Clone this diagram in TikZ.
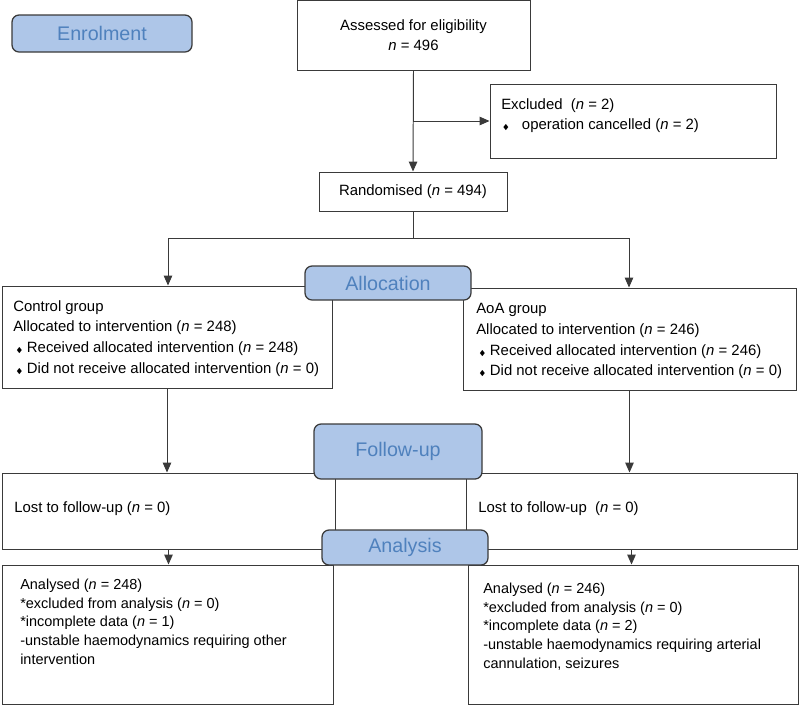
\documentclass[tikz,border=0pt]{standalone}
\usepackage{fontspec}
\usepackage{amssymb}
\setmainfont{Liberation Sans}
\usetikzlibrary{positioning}
\usetikzlibrary{fit}
\usetikzlibrary{arrows.meta}

\definecolor{stagefill}{HTML}{AEC6E8}
\definecolor{stagetext}{HTML}{4F81BD}
\definecolor{boxline}{HTML}{3A3A3A}
\newcommand{\dmd}{{\tiny$\blacklozenge$}}

\begin{document}
\begin{tikzpicture}[x=0.025cm,y=-0.025cm]

\tikzstyle{bordered} = [rectangle,draw=boxline,line width=0.7pt,inner sep=0]
\tikzstyle{stage} = [rounded corners=5pt,rectangle,draw=boxline,line width=0.9pt,fill=stagefill,inner sep=0]
\tikzstyle{stagetxt} = [inner sep=0,text=stagetext,font=\fontsize{14}{16}\selectfont]
\tikzstyle{txt} = [anchor=north west,inner sep=0,align=left,font=\fontsize{10.6}{14.8}\selectfont]
\tikzstyle{small} = [anchor=north west,inner sep=0,align=left,font=\fontsize{10.3}{13.2}\selectfont]
\tikzstyle{arrow} = [draw=boxline,line width=0.7pt,-{Triangle[length=7pt,width=6pt]}]

\useasboundingbox (0,0) rectangle (800,705);

\node [bordered, fit={(297,0) (530,70)}] (assess) {};
\node [inner sep=0, align=center, font=\fontsize{10.6}{14.2}\selectfont] at (assess.center) (assesstxt) {Assessed for eligibility\\\textit{n} = 496};

\node [bordered, fit={(490,84) (776,158)}] (excl) {};
\node [txt] at (501,98) (excltxt) {Excluded\ \ (\textit{n} = 2)\\\hspace{1pt}\dmd\hspace{9pt}operation cancelled (\textit{n} = 2)};

\node [bordered, fit={(319,172) (507,211)}] (rand) {};
\node [inner sep=0, font=\fontsize{10.6}{14.8}\selectfont] at (rand.center) (randtxt) {Randomised (\textit{n} = 494)};

\node [bordered, fit={(2,286) (332,388)}] (ctrl) {};
\node [txt] at (13,300) (ctrltxt) {Control group\\Allocated to intervention (\textit{n} = 248)\\\hspace{2pt}\dmd\hspace{3pt}Received allocated intervention (\textit{n} = 248)\\\hspace{2pt}\dmd\hspace{3pt}Did not receive allocated intervention (\textit{n} = 0)};

\node [bordered, fit={(463,288) (796,390)}] (aoa) {};
\node [txt] at (476,303) (aoatxt) {AoA group\\Allocated to intervention (\textit{n} = 246)\\\hspace{2pt}\dmd\hspace{3pt}Received allocated intervention (\textit{n} = 246)\\\hspace{2pt}\dmd\hspace{3pt}Did not receive allocated intervention (\textit{n} = 0)};

\node [bordered, fit={(2,473) (335,549)}] (lostL) {};
\node [txt] at (14,501) (lostLtxt) {Lost to follow-up (\textit{n} = 0)};

\node [bordered, fit={(466,473) (797,549)}] (lostR) {};
\node [txt] at (478,501) (lostRtxt) {Lost to follow-up\ \ (\textit{n} = 0)};

\node [bordered, fit={(2,565) (333,704)}] (anaL) {};
\node [small] at (20,579) (anaLtxt) {Analysed (\textit{n} = 248)\\{}*excluded from analysis (\textit{n} = 0)\\{}*incomplete data (\textit{n} = 1)\\{}-unstable haemodynamics requiring other\\intervention};

\node [bordered, fit={(468,565) (798,704)}] (anaR) {};
\node [small] at (483,583) (anaRtxt) {Analysed (\textit{n} = 246)\\{}*excluded from analysis (\textit{n} = 0)\\{}*incomplete data (\textit{n} = 2)\\{}-unstable haemodynamics requiring arterial\\cannulation, seizures};

% connectors
\coordinate (split) at (413,121);
\coordinate (fork) at (413,238);
\coordinate (forkL) at (168,238);
\coordinate (forkR) at (629,238);

\draw [arrow] (assess.south) -- (rand.north);
\draw [arrow] (split) -- (excl.west);
\draw [draw=boxline, line width=0.7pt] (rand.south) -- (fork);
\draw [arrow] (fork) -- (forkL) -- (forkL |- ctrl.north);
\draw [arrow] (fork) -- (forkR) -- (forkR |- aoa.north);
\draw [arrow] (ctrl.south) -- (ctrl.south |- lostL.north);
\draw [arrow] (aoa.south) -- (aoa.south |- lostR.north);
\draw [arrow] (lostL.south) -- (lostL.south |- anaL.north);
\draw [arrow] (lostR.south) -- (lostR.south |- anaR.north);

% stage labels
\node [stage, fit={(12,15) (192,52)}] (enrol) {};
\node [stagetxt] at (enrol.center) (enroltxt) {Enrolment};
\node [stage, fit={(305,266) (471,300)}] (alloc) {};
\node [stagetxt] at (alloc.center) (alloctxt) {Allocation};
\node [stage, fit={(314,424) (482,479)}] (follow) {};
\node [stagetxt] at (follow.center) (followtxt) {Follow-up};
\node [stage, fit={(322,530) (488,565)}] (analysis) {};
\node [stagetxt] at (analysis.center) (analysistxt) {Analysis};

\end{tikzpicture}
\end{document}
